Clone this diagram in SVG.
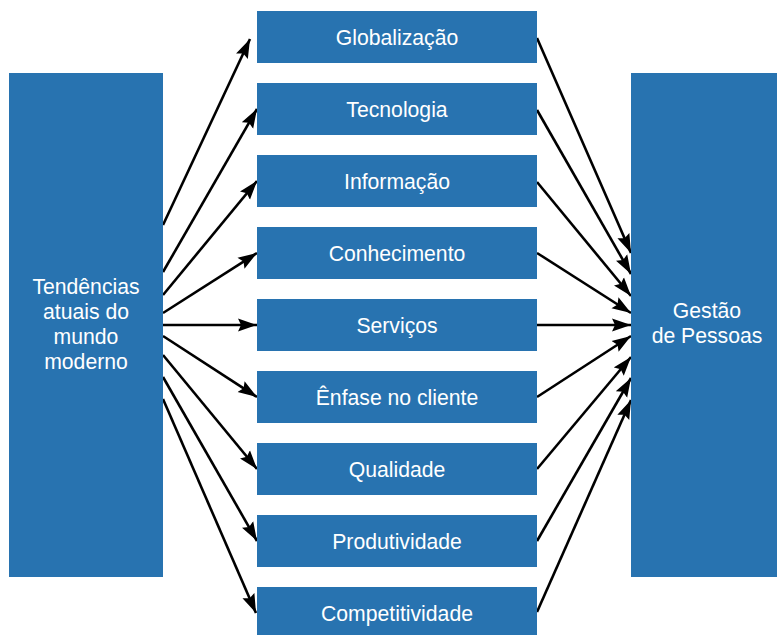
<svg xmlns="http://www.w3.org/2000/svg" width="777" height="635" viewBox="0 0 777 635">
<style>
.box{fill:#2873b0}
.t{fill:#ffffff;font-family:"Liberation Sans",Arial,sans-serif;font-size:21.2px;text-anchor:middle}
.c{stroke:#000;stroke-width:2.6;fill:none;marker-end:url(#ah)}
</style>
<defs>
<marker id="ah" markerUnits="userSpaceOnUse" markerWidth="20" markerHeight="14" refX="19" refY="6.5" orient="auto" viewBox="0 0 20 13">
<path d="M0,0 L19,6.5 L0,13 L3,6.5 z" fill="#000"/>
</marker>
</defs>
<rect width="777" height="635" fill="#fff"/>
<g id="connectors">
<line class="c" x1="163" y1="225" x2="250" y2="39"/>
<line class="c" x1="163" y1="272" x2="257" y2="109"/>
<line class="c" x1="163" y1="295" x2="257" y2="181"/>
<line class="c" x1="163" y1="313" x2="257" y2="253"/>
<line class="c" x1="163" y1="325" x2="257" y2="325"/>
<line class="c" x1="163" y1="336" x2="257" y2="397"/>
<line class="c" x1="163" y1="355" x2="257" y2="469"/>
<line class="c" x1="163" y1="377" x2="257" y2="541"/>
<line class="c" x1="163" y1="399" x2="256" y2="613"/>
<line class="c" x1="537" y1="38" x2="631" y2="253"/>
<line class="c" x1="537" y1="110" x2="631" y2="274"/>
<line class="c" x1="537" y1="182" x2="631" y2="296"/>
<line class="c" x1="537" y1="253" x2="631" y2="313"/>
<line class="c" x1="537" y1="325" x2="631" y2="325"/>
<line class="c" x1="537" y1="397" x2="631" y2="336"/>
<line class="c" x1="537" y1="469" x2="631" y2="357"/>
<line class="c" x1="537" y1="541" x2="631" y2="378"/>
<line class="c" x1="537" y1="612" x2="631" y2="400"/>
</g>
<g id="left">
<rect class="box" x="9" y="73" width="154" height="504"/>
<text class="t" x="86" y="294">Tendências</text>
<text class="t" x="86" y="319">atuais do</text>
<text class="t" x="86" y="344">mundo</text>
<text class="t" x="86" y="369">moderno</text>
</g>
<g id="right">
<rect class="box" x="631" y="73" width="146" height="504"/>
<text class="t" x="707" y="318">Gestão</text>
<text class="t" x="707" y="343">de Pessoas</text>
</g>
<g id="n1"><rect class="box" x="257" y="11" width="280" height="52"/><text class="t" x="397" y="44.5">Globalização</text></g>
<g id="n2"><rect class="box" x="257" y="83" width="280" height="52"/><text class="t" x="397" y="116.5">Tecnologia</text></g>
<g id="n3"><rect class="box" x="257" y="155" width="280" height="52"/><text class="t" x="397" y="188.5">Informação</text></g>
<g id="n4"><rect class="box" x="257" y="227" width="280" height="52"/><text class="t" x="397" y="260.5">Conhecimento</text></g>
<g id="n5"><rect class="box" x="257" y="299" width="280" height="52"/><text class="t" x="397" y="332.5">Serviços</text></g>
<g id="n6"><rect class="box" x="257" y="371" width="280" height="52"/><text class="t" x="397" y="404.5">Ênfase no cliente</text></g>
<g id="n7"><rect class="box" x="257" y="443" width="280" height="52"/><text class="t" x="397" y="476.5">Qualidade</text></g>
<g id="n8"><rect class="box" x="257" y="515" width="280" height="52"/><text class="t" x="397" y="548.5">Produtividade</text></g>
<g id="n9"><rect class="box" x="257" y="587" width="280" height="52"/><text class="t" x="397" y="620.5">Competitividade</text></g>
</svg>
